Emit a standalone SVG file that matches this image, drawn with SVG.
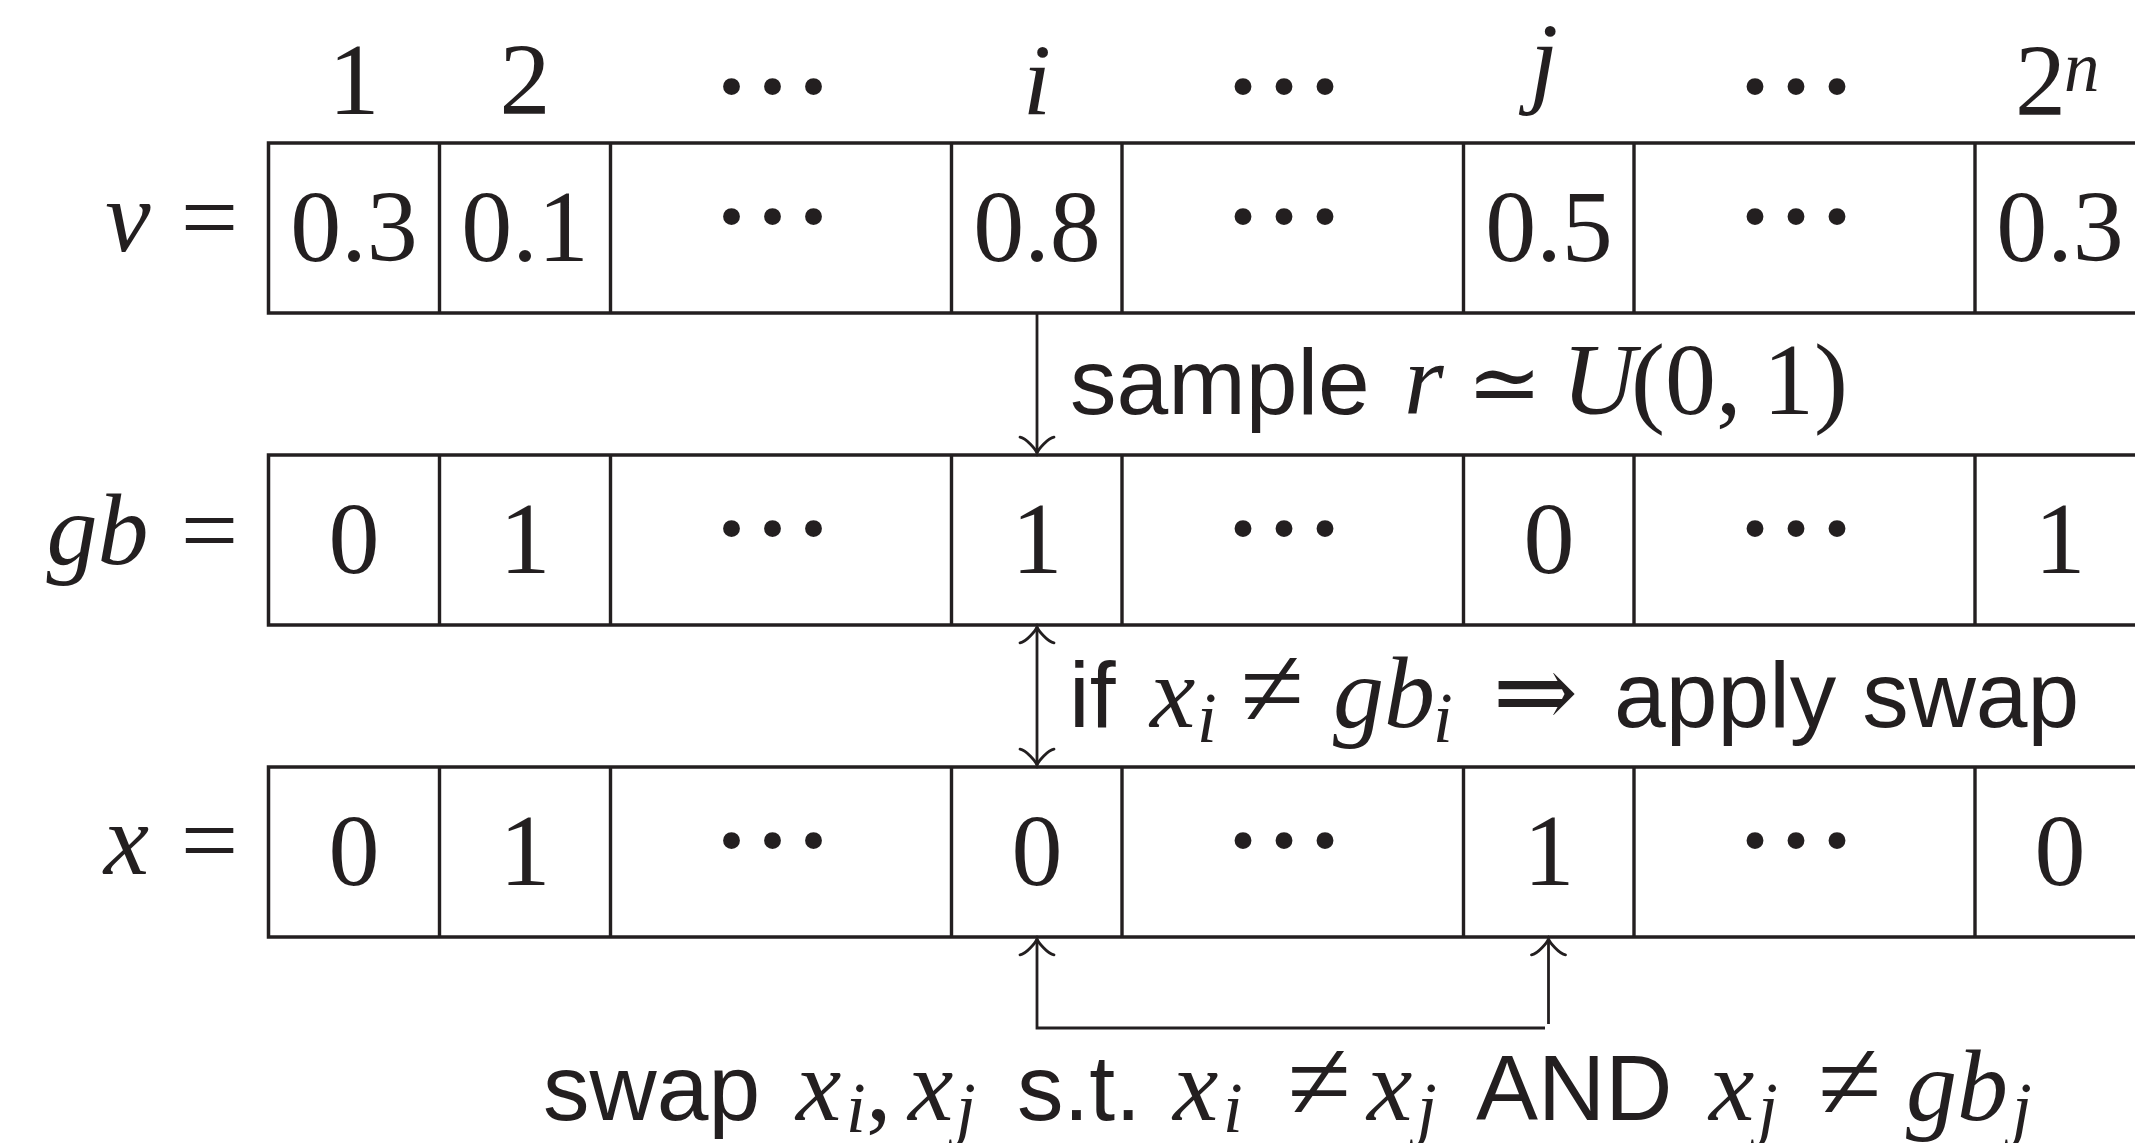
<svg xmlns="http://www.w3.org/2000/svg" width="2135" height="1143" viewBox="0 0 2135 1143">
<style>
  .box { fill: none; stroke: #231f20; stroke-width: 3.5; }
  .div { stroke: #231f20; stroke-width: 3.4; }
  .conn { fill: none; stroke: #231f20; stroke-width: 2.8; }
  text { fill: #231f20; }
  .m { font-family: "Liberation Serif", "Times New Roman", "DejaVu Serif", serif; font-size: 102px; }
  .c { text-anchor: middle; }
  .d { font-family: "Liberation Serif", "Times New Roman", serif; font-size: 104px; font-weight: bold; text-anchor: middle; }
  .mi { font-family: "Liberation Serif", "Times New Roman", "DejaVu Serif", serif; font-size: 102px; font-style: italic; }
  .sub { font-family: "Liberation Serif", "Times New Roman", "DejaVu Serif", serif; font-size: 71px; font-style: italic; }
  .sans { font-family: "Liberation Sans", Arial, sans-serif; font-size: 93px; }
  .sym { font-family: "Liberation Serif", "DejaVu Serif", serif; font-size: 102px; text-anchor: middle; }
  .ne { font-size: 116px; }
  .sim { font-size: 90px; }
</style>
<defs>
  <marker id="to" viewBox="-20 -20 24 40" refX="0" refY="0" markerWidth="24" markerHeight="40" markerUnits="userSpaceOnUse" orient="auto-start-reverse">
    <path d="M-15.9,-17 C-14.9,-10.6 -3.2,-1.1 0,0 C-3.2,1.1 -14.9,10.6 -15.9,17" fill="none" stroke="#231f20" stroke-width="2.8" stroke-linecap="round"/>
  </marker>
</defs>

<g id="header">
  <text class="m c" x="354" y="114">1</text>
  <text class="m c" x="525" y="114">2</text>
  <text class="d" x="731.5" y="94">.</text><text class="d" x="772.5" y="94">.</text><text class="d" x="813.5" y="94">.</text>
  <text class="mi c" x="1037" y="115">i</text>
  <text class="d" x="1243" y="94">.</text><text class="d" x="1284" y="94">.</text><text class="d" x="1325" y="94">.</text>
  <text class="mi c" x="1544" y="94">j</text>
  <text class="d" x="1755" y="94">.</text><text class="d" x="1796" y="94">.</text><text class="d" x="1837" y="94">.</text>
  <text class="m" x="2015" y="115">2</text><text class="sub" x="2064" y="91">n</text>
</g>

<g id="row-v">
  <text class="mi c" x="128" y="251">v</text>
  <text class="m c" x="209.5" y="251">=</text>
  <rect class="box" x="268.5" y="143" width="1877.5" height="170"/>
  <path class="div" d="M439.5,143V313M610.5,143V313M951.5,143V313M1122,143V313M1463.5,143V313M1634,143V313M1975,143V313"/>
  <text class="m c" x="354" y="261">0.3</text>
  <text class="m c" x="525" y="261">0.1</text>
  <text class="d" x="731.5" y="224">.</text><text class="d" x="772.5" y="224">.</text><text class="d" x="813.5" y="224">.</text>
  <text class="m c" x="1037" y="261">0.8</text>
  <text class="d" x="1243" y="224">.</text><text class="d" x="1284" y="224">.</text><text class="d" x="1325" y="224">.</text>
  <text class="m c" x="1549" y="261">0.5</text>
  <text class="d" x="1755" y="224">.</text><text class="d" x="1796" y="224">.</text><text class="d" x="1837" y="224">.</text>
  <text class="m c" x="2060" y="261">0.3</text>
</g>

<g id="row-gb">
  <text class="mi c" x="97.5" y="564">gb</text>
  <text class="m c" x="209.5" y="564">=</text>
  <rect class="box" x="268.5" y="455" width="1877.5" height="170"/>
  <path class="div" d="M439.5,455V625M610.5,455V625M951.5,455V625M1122,455V625M1463.5,455V625M1634,455V625M1975,455V625"/>
  <text class="m c" x="354" y="573">0</text>
  <text class="m c" x="525" y="573">1</text>
  <text class="d" x="731.5" y="536">.</text><text class="d" x="772.5" y="536">.</text><text class="d" x="813.5" y="536">.</text>
  <text class="m c" x="1037" y="573">1</text>
  <text class="d" x="1243" y="536">.</text><text class="d" x="1284" y="536">.</text><text class="d" x="1325" y="536">.</text>
  <text class="m c" x="1549" y="573">0</text>
  <text class="d" x="1755" y="536">.</text><text class="d" x="1796" y="536">.</text><text class="d" x="1837" y="536">.</text>
  <text class="m c" x="2060" y="573">1</text>
</g>

<g id="row-x">
  <text class="mi c" x="126.5" y="874">x</text>
  <text class="m c" x="209.5" y="874">=</text>
  <rect class="box" x="268.5" y="767" width="1877.5" height="170"/>
  <path class="div" d="M439.5,767V937M610.5,767V937M951.5,767V937M1122,767V937M1463.5,767V937M1634,767V937M1975,767V937"/>
  <text class="m c" x="354" y="885">0</text>
  <text class="m c" x="525" y="885">1</text>
  <text class="d" x="731.5" y="848">.</text><text class="d" x="772.5" y="848">.</text><text class="d" x="813.5" y="848">.</text>
  <text class="m c" x="1037" y="885">0</text>
  <text class="d" x="1243" y="848">.</text><text class="d" x="1284" y="848">.</text><text class="d" x="1325" y="848">.</text>
  <text class="m c" x="1549" y="885">1</text>
  <text class="d" x="1755" y="848">.</text><text class="d" x="1796" y="848">.</text><text class="d" x="1837" y="848">.</text>
  <text class="m c" x="2060" y="885">0</text>
</g>

<g id="connectors">
  <path class="conn" d="M1037,313 V453" marker-end="url(#to)"/>
  <path class="conn" d="M1037,627 V765" marker-start="url(#to)" marker-end="url(#to)"/>
  <path class="conn" d="M1545,1028 H1037 V939" marker-end="url(#to)"/>
  <path class="conn" d="M1548.5,1024 V939" marker-end="url(#to)"/>
</g>

<g id="label-sample">
  <text class="sans" x="1070" y="414">sample</text>
  <text class="mi" x="1404" y="414">r</text>
  <text class="sym sim" x="1504.5" y="414">≃</text>
  <text class="mi" x="1562" y="414">U</text>
  <text class="m" x="1631" y="414">(0,</text>
  <text class="m" x="1763" y="414">1)</text>
</g>

<g id="label-if">
  <text class="sans" x="1069" y="727">if</text>
  <text class="mi" x="1150" y="727">x</text><text class="sub" x="1197" y="742">i</text>
  <text class="sym ne" x="1272" y="727">≠</text>
  <text class="mi" x="1333" y="727">gb</text><text class="sub" x="1433" y="742">i</text>
  <text class="sym" x="1535.5" y="727">⇒</text>
  <text class="sans" x="1614" y="727">apply swap</text>
</g>

<g id="label-swap">
  <text class="sans" x="543" y="1120">swap</text>
  <text class="mi" x="796" y="1120">x</text><text class="sub" x="846" y="1132">i</text>
  <text class="m" x="866" y="1120">,</text>
  <text class="mi" x="908" y="1120">x</text><text class="sub" x="956" y="1132">j</text>
  <text class="sans" x="1017" y="1120">s.t.</text>
  <text class="mi" x="1173" y="1120">x</text><text class="sub" x="1223" y="1132">i</text>
  <text class="sym ne" x="1319" y="1120">≠</text>
  <text class="mi" x="1367" y="1120">x</text><text class="sub" x="1417" y="1132">j</text>
  <text class="sans" x="1476" y="1120">AND</text>
  <text class="mi" x="1709" y="1120">x</text><text class="sub" x="1758" y="1132">j</text>
  <text class="sym ne" x="1849.5" y="1120">≠</text>
  <text class="mi" x="1906" y="1120">gb</text><text class="sub" x="2012" y="1132">j</text>
</g>
</svg>
